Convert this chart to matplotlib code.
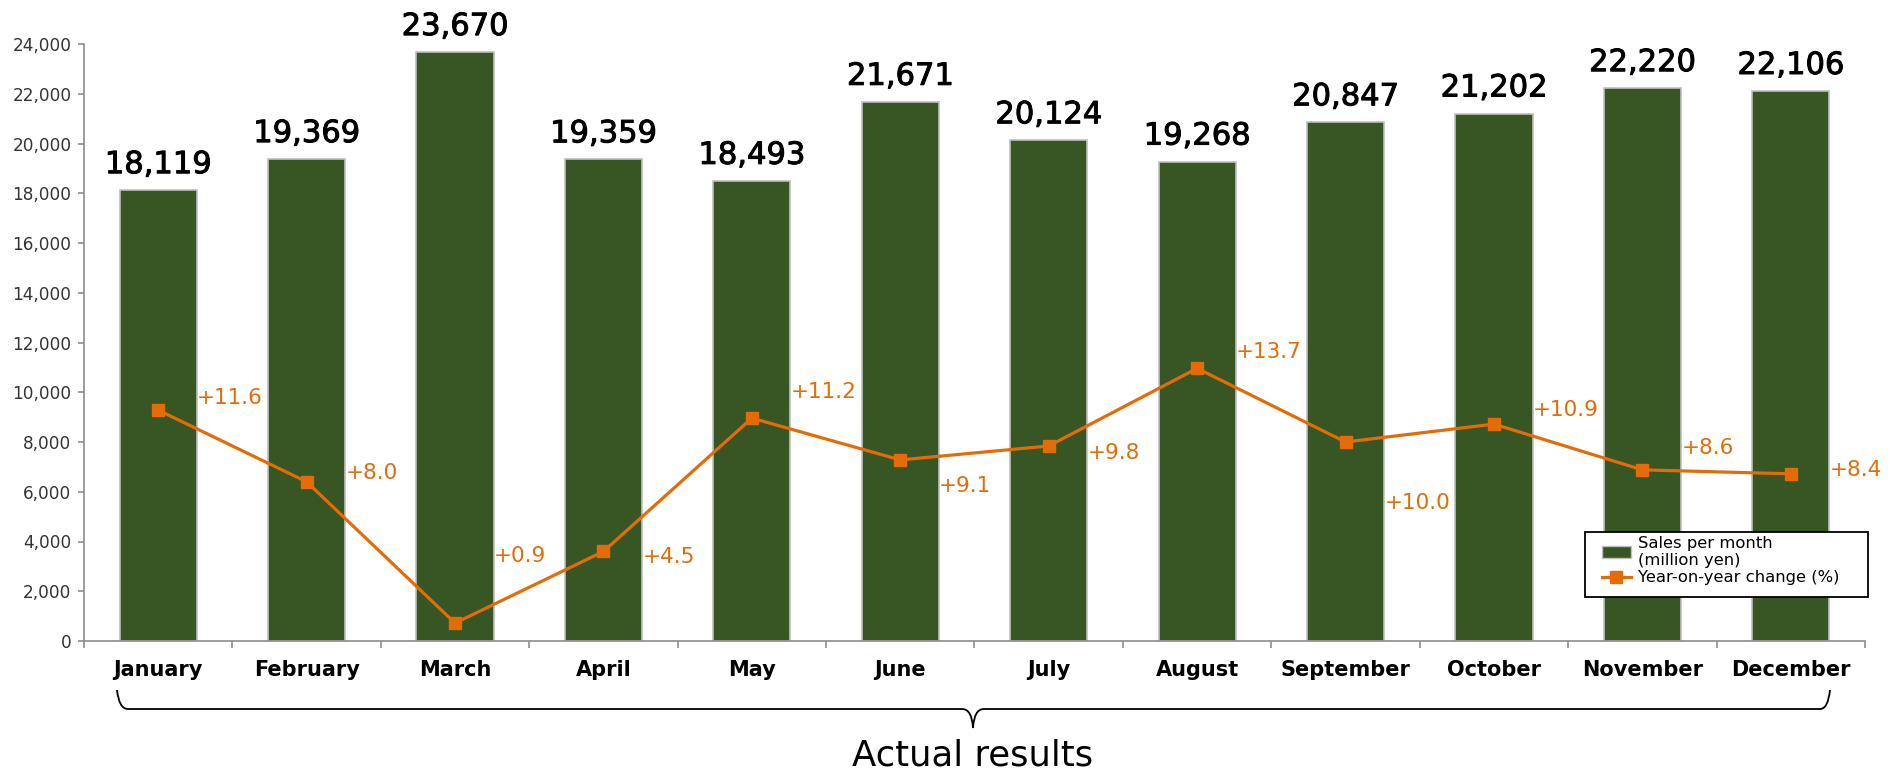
import matplotlib
matplotlib.use("Agg")
import matplotlib.pyplot as plt
import matplotlib.patheffects as pe
from matplotlib.path import Path
from matplotlib.patches import PathPatch, Patch, Rectangle
from matplotlib.lines import Line2D
from matplotlib.ticker import FuncFormatter

months = ["January", "February", "March", "April", "May", "June", "July",
          "August", "September", "October", "November", "December"]
sales = [18119, 19369, 23670, 19359, 18493, 21671, 20124,
         19268, 20847, 21202, 22220, 22106]
yoy = [11.6, 8.0, 0.9, 4.5, 11.2, 9.1, 9.8, 13.7, 10.0, 10.9, 8.6, 8.4]
# vertical nudge of each % label (points)
label_dy = [9, 6, 48, -4, 19, -19, -5, 12, -44, 10, 16, 3]

green = "#375623"
orange = "#E36C09"
grey = "#8C8C8C"

plt.rcParams['font.family'] = ['DejaVu Sans']

W, H = 1890, 771
fig = plt.figure(figsize=(W / 100, H / 100), dpi=100)
ax = fig.add_axes([84 / W, 1 - 641 / H, (1865 - 84) / W, (641 - 44) / H])

x = list(range(len(months)))
bars = ax.bar(x, sales, width=0.52, color=green, edgecolor="#BFBFBF", linewidth=1.2, zorder=2)
blabels = ax.bar_label(bars, labels=[f"{v:,}" for v in sales], padding=8, fontsize=22, color="black")
for t in blabels:
    t.set_path_effects([pe.withStroke(linewidth=0.7, foreground="black")])

ax.set_xlim(-0.5, 11.5)
ax.set_ylim(0, 24000)
ax.set_yticks(range(0, 24001, 2000))
ax.yaxis.set_major_formatter(FuncFormatter(lambda v, p: f"{int(v):,}"))
ax.tick_params(axis="y", labelsize=12.2, labelcolor="#333333", color=grey, length=4, width=1.2, pad=5)
ax.set_xticks(x)
ax.set_xticklabels(months, fontweight="bold", fontsize=15)
ax.tick_params(axis="x", which="major", length=0, pad=14)
ax.set_xticks([i - 0.5 for i in range(13)], minor=True)
ax.tick_params(axis="x", which="minor", length=5, width=1.2, color=grey, direction="out")
for s in ["top", "right"]:
    ax.spines[s].set_visible(False)
for s in ["left", "bottom"]:
    ax.spines[s].set_color(grey)
    ax.spines[s].set_linewidth(1.2)

ax2 = ax.twinx()
ax2.set_ylim(0, 30)
ax2.plot(x, yoy, color=orange, linewidth=2.3, marker="s", markersize=8.5, zorder=3)
for xi, v, dy in zip(x, yoy, label_dy):
    ax2.annotate(f"+{v:.1f}", (xi, v), xytext=(28, dy), textcoords="offset points",
                 ha="left", va="center", fontsize=15.5, color=orange, annotation_clip=False)
ax2.set_yticks([])
for s in ax2.spines.values():
    s.set_visible(False)


def px(xp, yp):
    return (xp / W, 1 - yp / H)


# legend frame drawn by hand (wider side padding than legend allows)
lx, ly = px(1585, 597)
fig.patches.append(Rectangle((lx, ly), (1868 - 1585) / W, (597 - 532) / H,
                             transform=fig.transFigure, facecolor="white",
                             edgecolor="black", linewidth=1.3, zorder=5))
handles = [Patch(facecolor=green, edgecolor="#BFBFBF"),
           Line2D([], [], color=orange, linewidth=2.3, marker="s", markersize=8.5)]
leg = fig.legend(handles, ["Sales per month\n(million yen)", "Year-on-year change (%)"],
                 loc="upper left", bbox_to_anchor=px(1600, 534), borderaxespad=0,
                 fontsize=11.8, frameon=False, borderpad=0.1,
                 handlelength=1.8, handletextpad=0.4, labelspacing=0.15)
leg.set_zorder(6)

# brace under the month labels
verts = [px(117, 690), px(119, 709), px(128, 709),
         px(962, 709), px(972, 709), px(973, 728),
         px(974, 709), px(984, 709),
         px(1820, 709), px(1828, 709), px(1830, 690)]
codes = [Path.MOVETO, Path.CURVE3, Path.CURVE3,
         Path.LINETO, Path.CURVE3, Path.CURVE3,
         Path.CURVE3, Path.CURVE3,
         Path.LINETO, Path.CURVE3, Path.CURVE3]
fig.patches.append(PathPatch(Path(verts, codes), transform=fig.transFigure,
                             facecolor="none", edgecolor="black", linewidth=1.3))
fig.text(973 / W, 1 - 756 / H, "Actual results", ha="center", va="center", fontsize=25.5)

fig.savefig("out.png", dpi=100)
